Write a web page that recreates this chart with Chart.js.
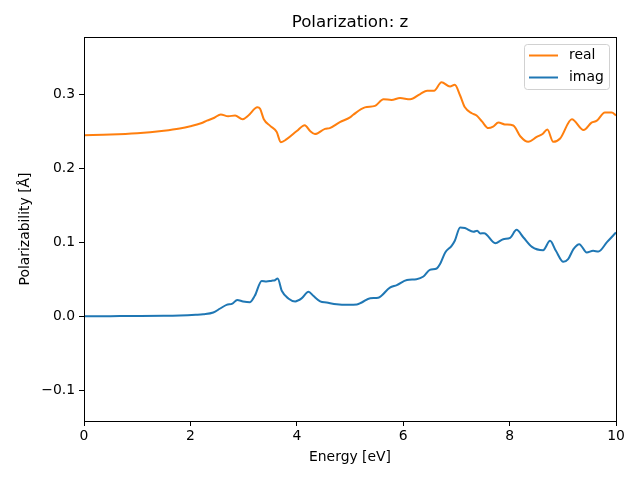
<!DOCTYPE html>
<html>
<head>
<meta charset="utf-8">
<script src="https://cdn.jsdelivr.net/npm/chart.js@4/dist/chart.umd.min.js"></script>
<style>
html,body{margin:0;padding:0;background:#fff;}
#wrap{width:640px;height:480px;}
</style>
</head>
<body>
<div id="wrap"><canvas id="c" width="640" height="480"></canvas></div>
<script>
const chartTitle = 'Polarization: z';
const xTitle = 'Energy [eV]';
const yTitle = 'Polarizability [Å]';
const seriesNames = ['real', 'imag'];
const xTicks = [0, 2, 4, 6, 8, 10];
const yTicks = [-0.1, 0.0, 0.1, 0.2, 0.3];

const realE = [0, 0.5, 1.0, 1.5, 1.8, 2.0, 2.2, 2.31, 2.45, 2.57, 2.71, 2.84, 2.98, 3.09, 3.26, 3.31, 3.38, 3.50, 3.62, 3.70, 3.81, 4.00, 4.15, 4.25, 4.34, 4.53, 4.62, 4.81, 5.0, 5.06, 5.28, 5.47, 5.63, 5.78, 5.94, 6.13, 6.32, 6.45, 6.58, 6.72, 6.88, 6.97, 7.07, 7.16, 7.29, 7.38, 7.48, 7.60, 7.69, 7.79, 7.91, 8.07, 8.20, 8.35, 8.51, 8.62, 8.71, 8.82, 8.95, 9.17, 9.39, 9.54, 9.64, 9.79, 9.92, 10.0];
const realV = [0.2445, 0.2452, 0.247, 0.2505, 0.2535, 0.2565, 0.2605, 0.264, 0.268, 0.2725, 0.270, 0.271, 0.266, 0.271, 0.282, 0.280, 0.266, 0.257, 0.249, 0.235, 0.239, 0.250, 0.258, 0.250, 0.246, 0.253, 0.254, 0.262, 0.2685, 0.272, 0.282, 0.284, 0.293, 0.292, 0.2945, 0.293, 0.300, 0.3045, 0.3045, 0.316, 0.310, 0.3125, 0.298, 0.282, 0.274, 0.271, 0.263, 0.254, 0.256, 0.2615, 0.259, 0.2575, 0.243, 0.2355, 0.242, 0.246, 0.252, 0.2355, 0.240, 0.266, 0.2514, 0.2615, 0.264, 0.275, 0.275, 0.271];

const imagE = [0, 0.5, 1.0, 1.5, 1.8, 2.1, 2.24, 2.43, 2.56, 2.68, 2.79, 2.88, 2.99, 3.12, 3.21, 3.34, 3.43, 3.53, 3.59, 3.64, 3.72, 3.84, 3.97, 4.09, 4.22, 4.31, 4.44, 4.56, 4.75, 4.97, 5.13, 5.22, 5.38, 5.53, 5.75, 5.88, 6.07, 6.25, 6.38, 6.50, 6.63, 6.69, 6.79, 6.91, 6.97, 7.07, 7.16, 7.32, 7.39, 7.45, 7.52, 7.73, 7.88, 8.01, 8.13, 8.26, 8.42, 8.63, 8.76, 8.87, 9.01, 9.10, 9.20, 9.31, 9.45, 9.57, 9.67, 9.83, 10.0];
const imagV = [0.0, 0.0001, 0.0002, 0.0005, 0.001, 0.002, 0.0027, 0.005, 0.0104, 0.0153, 0.017, 0.022, 0.020, 0.019, 0.0275, 0.0477, 0.0469, 0.048, 0.0486, 0.051, 0.034, 0.024, 0.020, 0.024, 0.033, 0.0275, 0.020, 0.0185, 0.016, 0.0153, 0.0158, 0.0185, 0.0243, 0.025, 0.0387, 0.042, 0.049, 0.050, 0.0536, 0.0626, 0.0644, 0.070, 0.086, 0.095, 0.1018, 0.1198, 0.119, 0.114, 0.1153, 0.1117, 0.112, 0.0986, 0.104, 0.1058, 0.1166, 0.1063, 0.0937, 0.0892, 0.1018, 0.0883, 0.0734, 0.077, 0.0905, 0.0973, 0.086, 0.0883, 0.0874, 0.100, 0.113];

const colors = ['#ff7f0e', '#1f77b4'];
const FONT = 'DejaVu Sans';

function pts(xs, ys){ return xs.map((x,i)=>({x:x, y:ys[i]})); }

const framePlugin = {
  id: 'frame',
  afterDraw(chart){
    const {ctx, chartArea:a} = chart;
    ctx.save();
    ctx.strokeStyle = '#000';
    ctx.lineWidth = 1;
    ctx.strokeRect(Math.round(a.left)+0.5, Math.round(a.top)+0.5, Math.round(a.right-a.left), Math.round(a.bottom-a.top));
    ctx.fillStyle = '#000';
    ctx.font = '16.7px "' + FONT + '"';
    ctx.textAlign = 'center';
    ctx.textBaseline = 'middle';
    ctx.fillText(chartTitle, (a.left+a.right)/2, 23);
    const bx = 524.5, by = 44.5, bw = 85, bh = 45;
    ctx.strokeStyle = 'rgba(204,204,204,0.9)';
    ctx.fillStyle = 'rgba(255,255,255,0.8)';
    ctx.beginPath();
    const r = 3;
    ctx.moveTo(bx+r, by); ctx.lineTo(bx+bw-r, by); ctx.quadraticCurveTo(bx+bw, by, bx+bw, by+r);
    ctx.lineTo(bx+bw, by+bh-r); ctx.quadraticCurveTo(bx+bw, by+bh, bx+bw-r, by+bh);
    ctx.lineTo(bx+r, by+bh); ctx.quadraticCurveTo(bx, by+bh, bx, by+bh-r);
    ctx.lineTo(bx, by+r); ctx.quadraticCurveTo(bx, by, bx+r, by);
    ctx.closePath(); ctx.fill(); ctx.stroke();
    ctx.font = '13.9px "' + FONT + '"';
    ctx.textAlign = 'left';
    chart.data.datasets.forEach((ds, i) => {
      const y = 55.5 + i*22;
      ctx.strokeStyle = ds.borderColor;
      ctx.lineWidth = 2;
      ctx.beginPath(); ctx.moveTo(529, y); ctx.lineTo(558, y); ctx.stroke();
      ctx.fillStyle = '#000';
      ctx.fillText(ds.label, 569, y);
    });
    ctx.restore();
  }
};

new Chart(document.getElementById('c'), {
  type: 'line',
  data: {
    datasets: [
      {label: seriesNames[0], data: pts(realE, realV), borderColor: colors[0], backgroundColor: colors[0], borderWidth: 2, pointRadius: 0, cubicInterpolationMode: 'monotone', fill: false},
      {label: seriesNames[1], data: pts(imagE, imagV), borderColor: colors[1], backgroundColor: colors[1], borderWidth: 2, pointRadius: 0, cubicInterpolationMode: 'monotone', fill: false}
    ]
  },
  options: {
    responsive: false,
    animation: false,
    devicePixelRatio: 1,
    layout: {padding: {left: 0, right: 24, top: 37, bottom: 0}},
    plugins: {legend: {display: false}, title: {display: false}, tooltip: {enabled: false}},
    scales: {
      x: {
        type: 'linear', min: 0, max: 10,
        afterFit(s){ s.height = 59; },
        afterBuildTicks(s){ s.ticks = xTicks.map(v=>({value:v})); },
        grid: {display: true, drawOnChartArea: false, drawTicks: true, tickLength: 5, color: '#000', tickColor: '#000'},
        border: {display: true, color: '#000'},
        ticks: {color: '#000', font: {family: FONT, size: 13.9}, padding: 2, maxRotation: 0, callback: v => String(v)},
        title: {display: true, text: xTitle, color: '#000', font: {family: FONT, size: 13.9}, padding: {top: 0, bottom: 14.7}}
      },
      y: {
        type: 'linear', min: -0.1415, max: 0.377,
        afterFit(s){ s.width = 84; },
        afterBuildTicks(s){ s.ticks = yTicks.map(v=>({value:v})); },
        grid: {display: true, drawOnChartArea: false, drawTicks: true, tickLength: 5, color: '#000', tickColor: '#000'},
        border: {display: true, color: '#000'},
        ticks: {color: '#000', font: {family: FONT, size: 13.9}, padding: 4, callback: v => (v < 0 ? '\u2212' : '') + Math.abs(v).toFixed(1)},
        title: {display: true, text: yTitle, color: '#000', font: {family: FONT, size: 13.9}, padding: {top: 16.7, bottom: 0}}
      }
    }
  },
  plugins: [framePlugin]
});
</script>
</body>
</html>
